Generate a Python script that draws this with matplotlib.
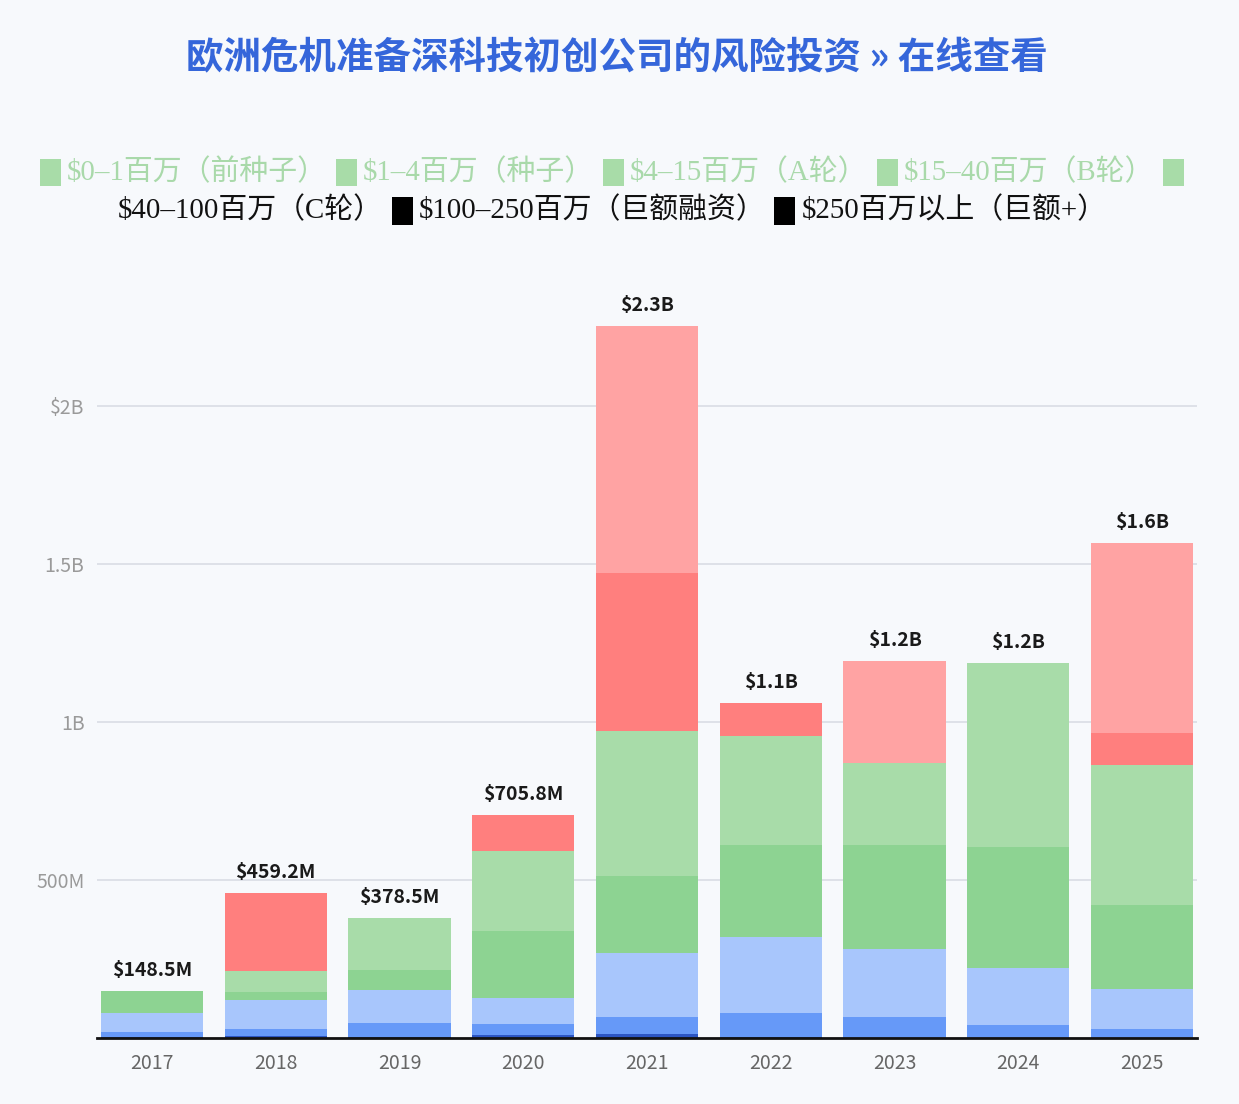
import matplotlib
matplotlib.use('Agg')
import matplotlib.pyplot as plt
from matplotlib.patches import Rectangle
import numpy as np

# ---------------- data (USD millions) ----------------
years = ['2017', '2018', '2019', '2020', '2021', '2022', '2023', '2024', '2025']
series_names = ['$0–1百万（前种子）', '$1–4百万（种子）', '$4–15百万（A轮）', '$15–40百万（B轮）',
                '$40–100百万（C轮）', '$100–250百万（巨额融资）', '$250百万以上（巨额+）']
pre_seed = [3.5, 5, 4, 8.5, 12, 2, 1, 1, 1]
seed = [16, 24, 42, 37, 53, 76, 67, 39, 26]
series_a = [61, 92, 105, 81, 203, 243, 214, 181, 127]
series_b = [68, 25, 63, 211, 246, 291, 330, 383, 266]
series_c = [0, 66, 164.5, 254.3, 456, 345, 257, 582, 443]
mega = [0, 247.2, 0, 114, 501, 103, 0, 0, 103]
mega_plus = [0, 0, 0, 0, 783, 0, 323, 0, 599]
ytick_vals = [500, 1000, 1500, 2000]
ytick_labels = ['500M', '1B', '1.5B', '$2B']

series = [pre_seed, seed, series_a, series_b, series_c, mega, mega_plus]
colors = ['#2C56C4', '#6699F8', '#A8C6FC', '#8DD392', '#A8DCA9', '#FF7F7E', '#FFA3A3']

BG = '#F7F9FC'
W, H = 1239, 1104
SANS = ['Noto Sans CJK SC', 'DejaVu Sans']
LEG_FONT = ['Liberation Serif', 'Noto Sans CJK SC']

fig = plt.figure(figsize=(W / 100, H / 100), dpi=100, facecolor=BG)
ax = fig.add_axes([97 / W, (H - 1038) / H, 1100 / W, 748 / H])
ax.set_facecolor(BG)

x = np.arange(len(years))
bottom = np.zeros(len(years))
for vals, c in zip(series, colors):
    v = np.array(vals, dtype=float)
    ax.bar(x, v, width=0.825, bottom=bottom, color=c, linewidth=0, zorder=3)
    bottom += v

for xi, tot in zip(x, bottom):
    lab = f'${tot/1000:.1f}B' if tot >= 1000 else f'${tot:.1f}M'
    ax.annotate(lab, (xi, tot), xytext=(0, 8), textcoords='offset points',
                ha='center', va='bottom', fontsize=14, fontweight='bold',
                color='#1a1a1a', family=SANS)

ax.set_xlim(-0.444, len(years) - 1 + 0.444)
ax.set_ylim(0, 748 / 316 * 1000)
ax.set_yticks(ytick_vals)
ax.set_yticklabels(ytick_labels)
ax.set_xticks(x)
ax.set_xticklabels(years)
ax.grid(axis='y', color='#DADDE4', linewidth=1.2, zorder=0)
for s in ax.spines.values():
    s.set_visible(False)
ax.tick_params(axis='y', length=0, pad=9, labelsize=14, labelcolor='#9a9a9a')
ax.tick_params(axis='x', length=0, pad=11, labelsize=14, labelcolor='#666666')
for lbl in ax.get_xticklabels() + ax.get_yticklabels():
    lbl.set_family(SANS)
ax.axhline(0, color='#111111', lw=2, zorder=5, clip_on=False)

# ---------------- title ----------------
fig.text(617 / W, 1 - 58 / H, '欧洲危机准备深科技初创公司的风险投资 » 在线查看',
         ha='center', va='center', fontsize=27, fontweight='bold',
         color='#3566DA', family=SANS)

# ---------------- legend (wrapped rows) ----------------
leg_green = '#A8DCA8'
txt_green = '#A9D9AA'
row1 = [('m', leg_green), ('t', series_names[0], txt_green),
        ('m', leg_green), ('t', series_names[1], txt_green),
        ('m', leg_green), ('t', series_names[2], txt_green),
        ('m', leg_green), ('t', series_names[3], txt_green),
        ('m', leg_green)]
row2 = [('t', series_names[4], '#111111'),
        ('m', '#000000'), ('t', series_names[5], '#111111'),
        ('m', '#000000'), ('t', series_names[6], '#111111')]

renderer = fig.canvas.get_renderer()


def build_row(items, yc, center=612):
    mw, mh = 21, 27
    parts = []
    for it in items:
        if it[0] == 'm':
            parts.append(('m', it[1], mw, None))
        else:
            t = fig.text(0, 1 - yc / H, it[1], color=it[2], fontsize=20.8,
                         family=LEG_FONT, ha='left', va='center')
            bb = t.get_window_extent(renderer)
            parts.append(('t', None, bb.width, t))
    gaps = []
    for i, p in enumerate(parts[:-1]):
        gaps.append(6 if p[0] == 'm' else 9)
    total = sum(p[2] for p in parts) + sum(gaps)
    cur = center - total / 2
    for i, p in enumerate(parts):
        if p[0] == 'm':
            fig.patches.append(Rectangle((cur / W, 1 - (yc + 1 + mh / 2) / H), mw / W, mh / H,
                                         transform=fig.transFigure, facecolor=p[1],
                                         edgecolor='none'))
        else:
            p[3].set_x(cur / W)
        cur += p[2]
        if i < len(gaps):
            cur += gaps[i]


build_row(row1, 172)
build_row(row2, 210)

fig.savefig('out.png', dpi=100, facecolor=BG)
